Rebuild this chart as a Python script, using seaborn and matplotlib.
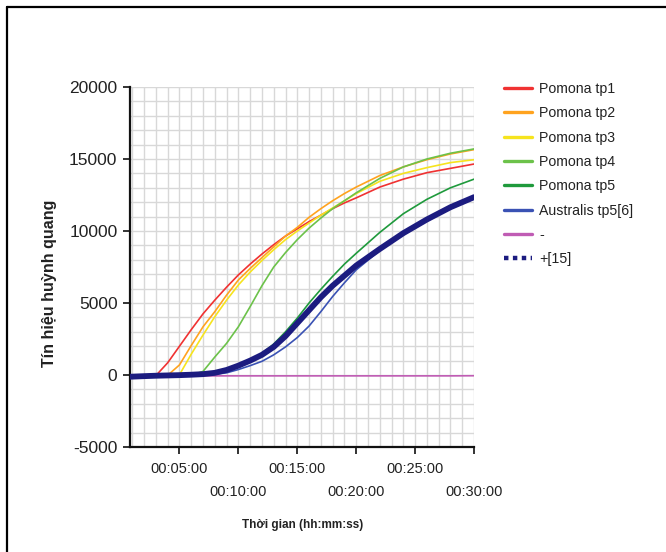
import numpy as np
import pandas as pd
import seaborn as sns
import matplotlib
matplotlib.use("Agg")
import matplotlib.pyplot as plt
from matplotlib.lines import Line2D

# ---------------- data (minutes, fluorescence) ----------------
time_min = [0.8, 2, 3, 4, 5, 6, 7, 8, 9, 10, 11, 12, 13, 14, 15, 16, 17, 18, 19, 20, 22, 24, 26, 28, 30]

pomona_tp1 = [-120, -80, -40, 850, 2000, 3150, 4250, 5200, 6100, 6950, 7700, 8400, 9050, 9650,
              10150, 10650, 11100, 11550, 11950, 12300, 13050, 13600, 14050, 14350, 14650]
pomona_tp2 = [-120, -80, -50, -20, 700, 2050, 3350, 4400, 5550, 6600, 7400, 8150, 8900, 9650,
              10250, 10950, 11550, 12100, 12600, 13050, 13850, 14450, 14950, 15350, 15650]
pomona_tp3 = [-120, -80, -50, -30, 20, 1450, 2780, 4050, 5200, 6250, 7150, 7950, 8700, 9400,
              10000, 10550, 11100, 11600, 12100, 12600, 13450, 14000, 14400, 14750, 14950]
pomona_tp4 = [-120, -80, -50, -30, -20, -10, 250, 1250, 2200, 3350, 4750, 6200, 7500, 8500,
              9400, 10200, 10900, 11550, 12100, 12650, 13650, 14450, 15000, 15400, 15700]
pomona_tp5 = [-120, -80, -50, -30, -10, 20, 60, 110, 280, 600, 1000, 1500, 2150, 3000,
              3950, 5000, 5950, 6850, 7700, 8450, 9900, 11200, 12200, 13000, 13600]
australis_tp5 = [-120, -80, -50, -30, -20, 0, 20, 50, 150, 380, 650, 950, 1400, 1950,
                 2600, 3400, 4400, 5450, 6400, 7300, 8650, 9750, 10700, 11550, 12250]
negative = [-120, -90, -80, -70, -70, -60, -60, -60, -60, -60, -60, -60, -60, -60,
            -60, -60, -60, -60, -60, -60, -60, -60, -60, -60, -50]
positive_15 = [-120, -80, -50, -30, -10, 20, 60, 150, 350, 650, 1000, 1400, 1950, 2700,
               3600, 4500, 5400, 6200, 6900, 7600, 8750, 9850, 10800, 11650, 12350]

series_names = ["Pomona tp1", "Pomona tp2", "Pomona tp3", "Pomona tp4", "Pomona tp5",
                "Australis tp5[6]", "-", "+[15]"]
series_values = [pomona_tp1, pomona_tp2, pomona_tp3, pomona_tp4, pomona_tp5,
                 australis_tp5, negative, positive_15]
series_colors = ["#f03232", "#ffa31f", "#f6e41e", "#6cc24a", "#1f9a3c",
                 "#3a52b4", "#c05cb4", "#1c1c80"]

y_ticks = [-5000, 0, 5000, 10000, 15000, 20000]
x_tick_minutes = [5, 10, 15, 20, 25, 30]
x_tick_labels = ["00:05:00", "00:10:00", "00:15:00", "00:20:00", "00:25:00", "00:30:00"]

# ---------------- styling ----------------
sns.set_theme(style="white")
plt.rcParams["font.family"] = ["Liberation Sans", "DejaVu Sans"]

fig = plt.figure(figsize=(6.66, 5.52), dpi=100)
ax = fig.add_axes([130 / 666, 105 / 552, 344 / 666, 360 / 552])

# light grid every minute / every 1000
for m in np.arange(1, 31, 1):
    ax.axvline(m, color="#d8d8d8", lw=1.0, zorder=0)
for v in np.arange(-5000, 20001, 1000):
    ax.axhline(v, color="#d8d8d8", lw=1.0, zorder=0)

rows = []
for name, vals in zip(series_names, series_values):
    for t, v in zip(time_min, vals):
        rows.append({"time": t, "signal": v, "series": name})
df = pd.DataFrame(rows)

draw_order = ["-", "Pomona tp1", "Pomona tp2", "Pomona tp3", "Pomona tp4",
              "Australis tp5[6]", "Pomona tp5", "+[15]"]
color_map = dict(zip(series_names, series_colors))
for name in draw_order:
    sub = df[df["series"] == name]
    lw = 4.2 if name == "+[15]" else 1.2
    sns.lineplot(data=sub, x="time", y="signal", ax=ax, color=color_map[name],
                 lw=lw, legend=False, zorder=3)

ax.set_xlim(0.8, 30)
ax.set_ylim(-5000, 20000)
ax.set_xlabel("")
ax.set_ylabel("")

for s in ["top", "right"]:
    ax.spines[s].set_visible(False)
for s in ["left", "bottom"]:
    ax.spines[s].set_color("#111111")
    ax.spines[s].set_linewidth(1.6)

ax.set_yticks(y_ticks)
ax.set_yticklabels([str(v) for v in y_ticks])
ax.tick_params(axis="y", which="major", direction="out", length=5, width=1.2,
               color="#111111", pad=4, labelsize=12.5, labelcolor="#222222", left=True)

ax.set_xticks(x_tick_minutes[0::2])
ax.set_xticklabels(x_tick_labels[0::2])
ax.set_xticks(x_tick_minutes[1::2], minor=True)
ax.set_xticklabels(x_tick_labels[1::2], minor=True)
ax.tick_params(axis="x", which="major", direction="out", length=5, width=1.2,
               color="#111111", pad=6, labelsize=10.5, labelcolor="#222222", bottom=True)
ax.tick_params(axis="x", which="minor", direction="out", length=5, width=1.2,
               color="#111111", pad=22.5, labelsize=10.5, labelcolor="#222222", bottom=True)

fig.text(50 / 666, 1 - 283 / 552, "Tín hiệu huỳnh quang", rotation=90,
         ha="center", va="center", fontsize=11.5, fontweight="bold", color="#222222")
fig.text(303 / 666, 1 - 525 / 552, "Thời gian (hh:mm:ss)",
         ha="center", va="center", fontsize=8.5, fontweight="bold", color="#222222")

# legend
handles = []
for name, c in zip(series_names, series_colors):
    if name == "+[15]":
        handles.append(Line2D([0], [0], color=c, lw=3.2, ls=(0, (1, 1))))
    else:
        handles.append(Line2D([0], [0], color=c, lw=2.4))
fig.legend(handles, series_names, loc="upper left", bbox_to_anchor=(504 / 666, 1 - 82 / 552),
           frameon=False, fontsize=10.2, handlelength=2.0, handletextpad=0.5,
           labelspacing=0.73, borderpad=0, borderaxespad=0, labelcolor="#222222")

# figure border (top and left)
fig.add_artist(Line2D([6.5 / 666, 6.5 / 666], [0, 1 - 7 / 552], transform=fig.transFigure,
                      color="black", lw=1.6))
fig.add_artist(Line2D([6.5 / 666, 1], [1 - 7 / 552, 1 - 7 / 552], transform=fig.transFigure,
                      color="black", lw=1.6))

fig.savefig("out.png", dpi=100)
